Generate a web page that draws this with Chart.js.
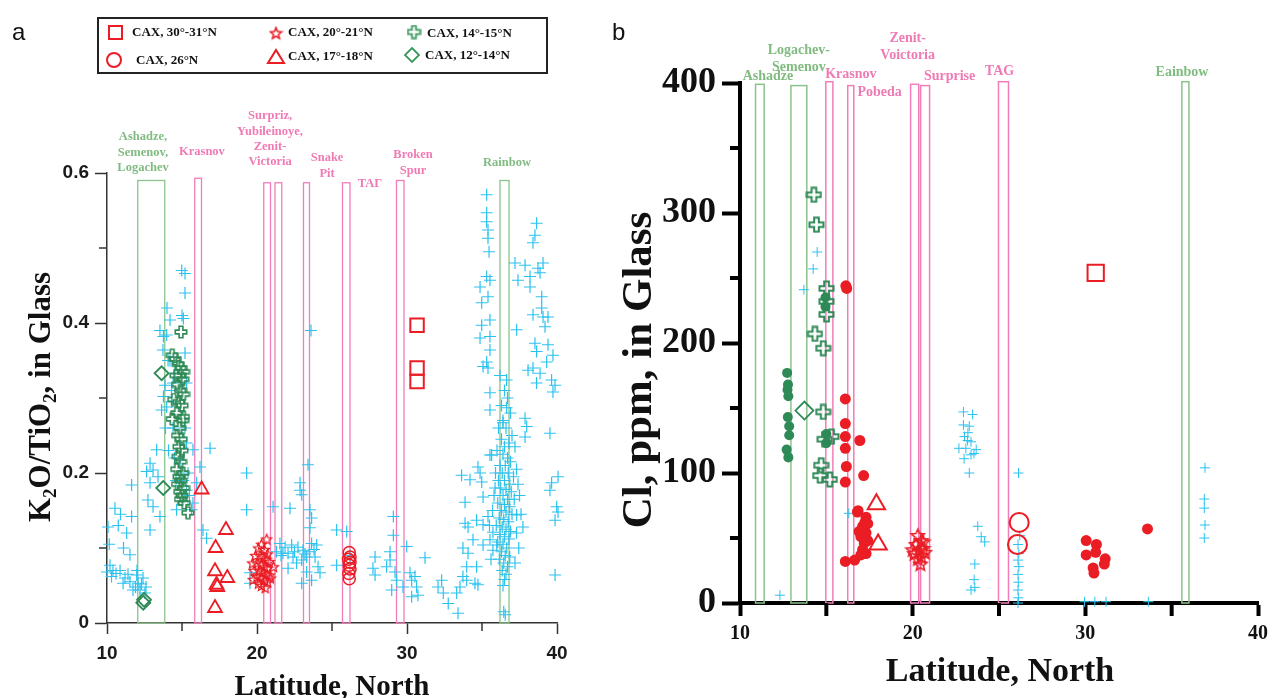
<!DOCTYPE html>
<html><head><meta charset="utf-8">
<script src="https://cdn.jsdelivr.net/npm/chart.js@4.4.1/dist/chart.umd.min.js"></script>
<style>
html,body{margin:0;padding:0;background:#fff;}
body{width:1274px;height:698px;overflow:hidden;position:relative;}
#ca{position:absolute;left:0;top:0;}
#cb{position:absolute;left:600px;top:0;}
</style></head>
<body>
<canvas id="ca" width="600" height="698"></canvas>
<canvas id="cb" width="674" height="698"></canvas>
<script>
// ================= DATA : panel a (latitude N, K2O/TiO2) =================
const cyanA = [
 [10.53,0.153],[11.64,0.184],[10.75,0.13],[11.64,0.142],[11.31,0.12],[10.07,0.128],[11.53,0.091],[10.2,0.077],[10.4,0.07],[10.87,0.07],
 [11.2,0.06],[11.53,0.055],[11.98,0.064],[12.07,0.053],[12.4,0.06],[11.73,0.044],[12.2,0.044],[12.53,0.04],[10.0,0.068],[11.07,0.053],
 [10.3,0.062],[10.6,0.066],[11.4,0.065],[11.9,0.048],[12.3,0.052],[10.15,0.105],[10.9,0.145],[11.1,0.1],[12.6,0.048],[12.0,0.07],
 [13.31,0.231],[12.87,0.213],[13.07,0.204],[12.64,0.202],[13.4,0.195],[12.87,0.187],[12.73,0.164],[13.07,0.155],[13.53,0.142],[12.87,0.124],
 [14.2,0.404],[15.09,0.406],[14.98,0.47],[15.2,0.466],[13.98,0.384],[13.73,0.364],[14.07,0.35],[13.87,0.317],[13.76,0.302],[13.64,0.284],
 [13.98,0.288],[14.31,0.295],[13.76,0.382],[13.53,0.39],[14.53,0.333],[15.73,0.231],[16.2,0.208],[15.98,0.187],[15.73,0.16],[16.87,0.233],
 [16.4,0.124],[16.64,0.113],[14.87,0.217],[15.09,0.19],[15.31,0.177],[14.64,0.151],[15.64,0.151],[14.2,0.35],[14.4,0.32],[14.3,0.31],
 [15.2,0.36],[15.3,0.32],[15.2,0.26],[15.3,0.24],[14.6,0.19],[15.4,0.2],[15.5,0.17],[14.4,0.26],[14.5,0.22],[13.9,0.26],
 [14.1,0.23],[14.0,0.42],[15.2,0.44],[15.0,0.41],
 [19.31,0.2],[19.31,0.151],[19.53,0.067],[19.53,0.053],[21.07,0.155],[22.2,0.153],[21.53,0.106],[21.87,0.101],[22.07,0.093],[21.73,0.093],
 [22.31,0.104],[22.07,0.073],[22.87,0.187],[22.87,0.177],[22.98,0.171],[23.4,0.211],[23.53,0.151],[23.64,0.14],[23.53,0.127],[22.73,0.101],
 [23.07,0.097],[23.31,0.088],[22.98,0.084],[23.64,0.106],[23.98,0.104],[23.87,0.088],[24.07,0.075],[24.2,0.067],[23.31,0.068],[23.64,0.057],
 [22.98,0.053],[22.64,0.08],[22.4,0.088],[23.6,0.39],[21.3,0.095],[21.6,0.09],[22.5,0.095],[23.2,0.092],[23.5,0.095],[23.8,0.098],
 [25.31,0.124],[25.98,0.122],[25.31,0.077],[26.2,0.09],[27.87,0.088],[27.73,0.073],[27.87,0.064],[28.64,0.075],[28.87,0.084],[29.09,0.142],
 [29.09,0.117],[28.87,0.095],[29.2,0.068],[28.98,0.044],[29.31,0.057],[29.98,0.102],[30.2,0.067],[30.31,0.057],[30.53,0.062],[30.64,0.048],
 [30.31,0.035],[31.2,0.087],[29.73,0.048],[30.73,0.037],[32.31,0.057],[32.07,0.048],[32.42,0.04],[32.75,0.026],[33.4,0.013],[33.31,0.04],
 [33.53,0.048],[33.98,0.057],[34.53,0.053],[34.73,0.051],[33.73,0.062],[33.98,0.075],[34.64,0.075],[34.07,0.093],[33.73,0.1],[34.4,0.111],
 [33.87,0.133],[34.64,0.137],[34.07,0.128],[35.07,0.131],[35.4,0.142],[33.87,0.161],[33.64,0.197],[34.2,0.191],[34.73,0.208],[34.87,0.2],
 [34.98,0.188],[35.07,0.168],[35.53,0.224],[35.87,0.18],[35.73,0.121],[35.53,0.111],[35.98,0.104],[35.07,0.104],[35.73,0.097],[37.73,0.128],
 [37.31,0.144],[39.87,0.064],[39.53,0.177],[40.07,0.195],[39.98,0.155],[39.87,0.137],[40.07,0.148],[39.64,0.187],
 [35.31,0.571],[35.31,0.547],[35.31,0.535],[35.4,0.524],[35.4,0.513],[35.47,0.495],[35.31,0.462],[34.87,0.448],[35.53,0.457],[34.98,0.427],
 [35.4,0.435],[35.53,0.404],[34.98,0.397],[34.87,0.38],[35.53,0.382],[35.31,0.348],[35.4,0.34],[35.07,0.342],[35.53,0.364],[35.53,0.307],
 [35.53,0.284],[35.64,0.224],[36.64,0.324],[36.64,0.287],[36.4,0.267],
 [38.64,0.533],[38.53,0.517],[38.4,0.507],[37.2,0.48],[37.87,0.477],[38.73,0.473],[39.07,0.48],[38.2,0.462],[38.87,0.467],[37.4,0.457],
 [38.2,0.448],[38.98,0.435],[38.98,0.42],[38.4,0.411],[39.07,0.408],[39.4,0.408],[39.2,0.395],[37.31,0.391],[38.53,0.373],[39.4,0.371],
 [38.64,0.362],[39.73,0.357],[39.31,0.348],[38.07,0.337],[38.4,0.34],[38.87,0.333],[39.64,0.324],[39.87,0.317],[38.64,0.32],[39.73,0.308],
 [37.87,0.273],[37.98,0.262],[39.53,0.253],[37.87,0.248],
 [36.2,0.33],[36.5,0.31],[36.3,0.29],[36.7,0.3],[36.9,0.28],[36.4,0.27],[36.1,0.26],[36.6,0.26],[37.0,0.25],[36.3,0.245],
 [36.8,0.24],[36.5,0.235],[37.2,0.235],[36.0,0.23],[36.4,0.225],[36.7,0.22],[36.9,0.215],[36.2,0.21],[36.55,0.21],[37.3,0.205],
 [35.9,0.2],[36.35,0.2],[36.75,0.2],[37.1,0.195],[36.1,0.19],[36.5,0.19],[36.85,0.185],[37.4,0.185],[36.25,0.18],[36.6,0.178],
 [36.95,0.175],[35.8,0.17],[36.4,0.17],[36.7,0.165],[37.15,0.165],[36.05,0.16],[36.5,0.158],[36.85,0.155],[36.3,0.15],[36.6,0.148],
 [37.0,0.145],[36.15,0.14],[36.45,0.138],[36.75,0.135],[35.95,0.13],[36.35,0.128],[36.6,0.125],[36.9,0.122],[36.2,0.118],[36.5,0.115],
 [36.8,0.112],[36.05,0.108],[36.4,0.105],[36.65,0.1],[36.3,0.095],[36.55,0.09],[36.85,0.088],[36.15,0.085],[36.45,0.08],[36.7,0.075],
 [36.35,0.07],[36.6,0.065],[36.5,0.058],[36.4,0.05],[36.55,0.011],[36.45,0.015],[37.5,0.17],[37.6,0.145],[35.7,0.15],[35.5,0.13],
 [37.3,0.12],[37.45,0.1],[35.6,0.085],[37.2,0.08]
];
const greenPlusA = [
 [14.93,0.388],[14.35,0.357],[14.55,0.352],[14.75,0.345],[14.95,0.34],[15.1,0.335],[14.6,0.33],[14.85,0.33],[15.05,0.325],[14.7,0.318],
 [14.9,0.31],[15.1,0.305],[14.45,0.298],[14.8,0.295],[15.0,0.29],[14.65,0.28],[15.09,0.275],[14.35,0.272],[15.05,0.27],[14.85,0.26],
 [14.7,0.25],[14.95,0.245],[14.8,0.235],[15.0,0.23],[14.75,0.222],[14.9,0.215],[14.65,0.205],[15.05,0.2],[14.8,0.195],[14.95,0.19],
 [14.7,0.185],[15.1,0.18],[14.85,0.175],[15.0,0.17],[14.9,0.165],[15.15,0.16],[15.4,0.147]
];
const diamondA  = [[13.64,0.333],[13.75,0.18],[12.47,0.031],[12.42,0.027]];
const triangleA = [[16.31,0.178],[17.93,0.124],[17.24,0.1],[17.2,0.069],[18.02,0.06],[17.3,0.051],[17.35,0.048],[17.2,0.02]];
const starA = [
 [20.1,0.1],[20.3,0.105],[20.5,0.098],[20.7,0.092],[20.2,0.09],[20.4,0.088],[20.6,0.085],[20.8,0.082],[20.0,0.08],[20.3,0.078],
 [20.5,0.075],[20.7,0.073],[20.15,0.07],[20.4,0.068],[20.6,0.065],[20.85,0.064],[20.0,0.062],[20.25,0.06],[20.5,0.057],[20.7,0.055],
 [20.3,0.05],[20.55,0.047],[20.1,0.053],[20.9,0.06],[20.65,0.112],[19.8,0.07],[19.7,0.08],[19.9,0.09],[19.75,0.058],[21.1,0.075]
];
const circleA = [[26.15,0.094],[26.2,0.088],[26.1,0.085],[26.2,0.081],[26.15,0.077],[26.2,0.072],[26.12,0.066],[26.15,0.059]];
const squareA = [[30.67,0.397],[30.67,0.34],[30.67,0.322]];

// vent fields, panel a
const ventA_lo  = [12.05,15.85,20.45,21.2,23.1,25.7,29.3,36.2];
const ventA_hi  = [13.85,16.3,20.9,21.65,23.5,26.2,29.8,36.8];
const ventA_top = [0.59,0.593,0.587,0.587,0.587,0.587,0.59,0.59];
const ventA_kind= ['g','p','p','p','p','p','p','g'];
const labelA_text = [['Ashadze,','Semenov,','Logachev'],['Krasnov'],['Surpriz,','Yubileinoye,','Zenit-','Victoria'],['Snake','Pit'],['TAΓ'],['Broken','Spur'],['Rainbow']];
const labelA_lat  = [12.4,16.33,20.87,24.67,27.53,30.4,36.67];
const labelA_kind = ['g','p','p','p','p','p','g'];
const xTicksA = [10,20,30,40], xMinorA = [15,25,35];
const yTicksA = [0,0.2,0.4,0.6], yMinorA = [0.1,0.3,0.5];
const legendText = ['CAX, 30°-31°N','CAX, 26°N','CAX, 20°-21°N','CAX, 17°-18°N','CAX, 14°-15°N','CAX, 12°-14°N'];

// ================= DATA : panel b (latitude N, Cl ppm) =================
const cyanB = [
 [14.47,270],[14.24,257],[13.7,241],[12.31,6],[16.3,69],
 [22.94,147],[23.47,145],[22.94,137],[23.28,136],[23.18,125],[23.38,124],[22.68,119],[23.08,119],[23.68,118],[23.38,114],
 [22.98,111],[23.55,115],[23.28,100],[23.0,128],[23.2,131],
 [23.77,59],[23.97,51],[24.17,47],[23.6,30],[23.56,18],[23.38,10],[23.6,12],
 [26.13,100],[26.1,45],[26.15,38],[26.1,33],[26.15,28],[26.1,22],[26.12,16],[26.1,10],[26.12,4],[26.1,0],[26.2,52],
 [29.95,1],[30.55,1],[31.2,1],[33.65,1],
 [36.93,104],[36.89,80],[36.89,73],[36.93,60],[36.89,50]
];
const greenPlusB = [[14.28,314],[14.43,291],[15.01,242],[15.01,232],[15.01,222],[14.34,207],[14.82,196],[14.82,147],[15.3,128],[14.9,126],[14.7,106],[15.2,95],[14.64,98]];
const greenDotB  = [[12.73,177],[12.75,164],[12.8,159],[12.77,143],[12.85,136],[12.85,129],[12.7,118],[12.8,112],[12.78,168],[14.95,235],[14.95,228],[15.0,130],[15.0,123]];
const diamondB   = [[13.73,148]];
const redDotB = [
 [16.13,244],[16.18,242],[16.1,157],[16.1,138],[16.1,128],[16.1,119],[16.94,125],[16.16,105],[17.16,98],[16.1,93],
 [16.1,32],[16.64,33],[16.84,71],[17.3,66],[17.1,59],[17.3,54],[17.0,51],[17.2,46],[17.4,48],[17.1,41],
 [17.3,38],[17.0,37],[16.8,70],[17.4,61],[16.9,55],[17.23,62],
 [30.05,48],[30.64,45],[30.05,37],[30.6,39],[31.15,34],[31.1,30],[30.45,27],[30.5,23],[33.6,57]
];
const circleB   = [[26.17,62],[26.07,45]];
const triangleB = [[17.9,76],[18.0,45]];
const starB     = [[20.3,52],[20.5,48],[20.2,45],[20.6,42],[20.4,40],[20.1,38],[20.5,36],[20.3,34],[20.7,39],[20.0,41],[20.6,47],[20.45,30]];
const squareB   = [[30.6,254]];

const ventB_lo  = [10.9,12.95,14.97,16.24,19.88,20.46,24.97,35.59];
const ventB_hi  = [11.4,13.87,15.38,16.59,20.35,20.98,25.55,36.0];
const ventB_top = [399,398,401,398,399,398,401,401];
const ventB_kind= ['g','g','p','p','p','p','p','g'];
const labelB_text = [['Ashadze'],['Logachev-','Semenov'],['Krasnov'],['Pobeda'],['Zenit-','Voictoria'],['Surprise'],['TAG'],['Eainbow']];
const labelB_lat  = [11.62,13.41,16.42,18.09,19.71,22.14,25.03,35.6];
const labelB_kind = ['g','g','p','p','p','p','p','g'];
const xTicksB = [10,20,30,40], xMinorB = [15,25,35];
const yTicksB = [0,100,200,300,400], yMinorB = [50,150,250,350];

// ================= STYLE =================
const CYAN='#2CC2F0', GREEN='#2E8A57', RED='#EA1C24', PINK='#F27DB8', LGREEN='#8CC28C';
const PINKTXT='#F07AB4', GREENTXT='#80BC80';
const SERIF='"Liberation Serif","Times New Roman",serif';
const SANS='"Liberation Sans",Arial,sans-serif';

function plusImg(size,color,lw){
  const c=document.createElement('canvas'); c.width=c.height=size;
  const g=c.getContext('2d'); const m=lw/2+0.5, s=size-2*m, a=s/3;
  const o=m;
  g.beginPath();
  g.moveTo(o+a,o); g.lineTo(o+2*a,o); g.lineTo(o+2*a,o+a); g.lineTo(o+s,o+a); g.lineTo(o+s,o+2*a);
  g.lineTo(o+2*a,o+2*a); g.lineTo(o+2*a,o+s); g.lineTo(o+a,o+s); g.lineTo(o+a,o+2*a); g.lineTo(o,o+2*a);
  g.lineTo(o,o+a); g.lineTo(o+a,o+a); g.closePath();
  g.strokeStyle=color; g.lineWidth=lw; g.stroke();
  return c;
}
function starImg(size,color,lw){
  const c=document.createElement('canvas'); c.width=c.height=size;
  const g=c.getContext('2d'); const cx=size/2, cy=size/2+0.6, R=size/2-lw, r=R*0.45;
  g.beginPath();
  for(let i=0;i<10;i++){const ang=-Math.PI/2+i*Math.PI/5; const rr=(i%2)?r:R; g.lineTo(cx+rr*Math.cos(ang),cy+rr*Math.sin(ang));}
  g.closePath(); g.strokeStyle=color; g.lineWidth=lw; g.stroke(); return c;
}
const plusA=plusImg(14,GREEN,1.6), plusB=plusImg(17,GREEN,2), plusL=plusImg(15,'#3A9A5E',1.8);
const starAi=starImg(13,RED,1.2), starBi=starImg(17,RED,1.5), starL=starImg(15,RED,1.6);

const pts = arr => arr.map(p=>({x:p[0],y:p[1]}));
function ds(data,style){ return Object.assign({data:pts(data),showLine:false,clip:false,pointHoverRadius:0},style); }

function minorTicks(chart,xm,ym,lenX,lenY,w,color){
  const ctx=chart.ctx, xs=chart.scales.x, ys=chart.scales.y;
  ctx.save(); ctx.strokeStyle=color; ctx.lineWidth=w; ctx.lineCap='butt';
  xm.forEach(v=>{const p=xs.getPixelForValue(v); ctx.beginPath(); ctx.moveTo(p,ys.bottom); ctx.lineTo(p,ys.bottom+lenX); ctx.stroke();});
  ym.forEach(v=>{const p=ys.getPixelForValue(v); ctx.beginPath(); ctx.moveTo(xs.left,p); ctx.lineTo(xs.left-lenY,p); ctx.stroke();});
  ctx.restore();
}
function vents(chart,lo,hi,top,kind,lw){
  const ctx=chart.ctx, xs=chart.scales.x, ys=chart.scales.y;
  ctx.save(); ctx.lineWidth=lw;
  lo.forEach((l,i)=>{const x0=xs.getPixelForValue(l), x1=xs.getPixelForValue(hi[i]);
    const y0=ys.getPixelForValue(top[i]), y1=ys.getPixelForValue(0);
    ctx.strokeStyle = kind[i]==='g'?LGREEN:PINK; ctx.strokeRect(x0,y0,x1-x0,y1-y0);});
  ctx.restore();
}
function ventLabels(chart,texts,lats,kinds,ys0,lh,font){
  const ctx=chart.ctx, xs=chart.scales.x;
  ctx.save(); ctx.font=font; ctx.textAlign='center'; ctx.textBaseline='middle';
  texts.forEach((lines,i)=>{ctx.fillStyle=kinds[i]==='g'?GREENTXT:PINKTXT; const x=xs.getPixelForValue(lats[i]);
    lines.forEach((t,j)=>ctx.fillText(t,x,ys0[i]+j*lh));});
  ctx.restore();
}
function rotTitle(ctx,cx,cy,parts,size){
  ctx.save(); ctx.translate(cx,cy); ctx.rotate(-Math.PI/2); ctx.fillStyle='#111'; ctx.textBaseline='middle';
  let total=0; parts.forEach(p=>{ctx.font='bold '+(p[1]?Math.round(size*0.62):size)+'px '+SERIF; total+=ctx.measureText(p[0]).width;});
  let x=-total/2;
  parts.forEach(p=>{ctx.font='bold '+(p[1]?Math.round(size*0.62):size)+'px '+SERIF; ctx.fillText(p[0],x,p[1]?size*0.3:0); x+=ctx.measureText(p[0]).width;});
  ctx.restore();
}

// ================= PANEL A =================
const plugA={id:'plugA',
  beforeDatasetsDraw(chart){ vents(chart,ventA_lo,ventA_hi,ventA_top,ventA_kind,1.3); },
  afterDraw(chart){
    const ctx=chart.ctx;
    minorTicks(chart,xMinorA,yMinorA,8,8,1.5,'#333');
    ventLabels(chart,labelA_text,labelA_lat,labelA_kind,[137,152,116,158,184,155,163],15.3,'bold 12.5px '+SERIF);
    // legend
    ctx.save(); ctx.strokeStyle='#222'; ctx.lineWidth=2; ctx.strokeRect(98,18,449,55);
    ctx.font='bold 13px '+SERIF; ctx.fillStyle='#111'; ctx.textBaseline='middle'; ctx.textAlign='left';
    ctx.strokeStyle=RED; ctx.lineWidth=2; ctx.strokeRect(109,26,13,13);
    ctx.beginPath(); ctx.arc(114,60,7,0,Math.PI*2); ctx.stroke();
    ctx.drawImage(starL,276-7.5,33-7.5);
    ctx.beginPath(); ctx.moveTo(276,50); ctx.lineTo(284,63); ctx.lineTo(268,63); ctx.closePath(); ctx.stroke();
    ctx.drawImage(plusL,414-7.5,32-7.5);
    ctx.strokeStyle='#3A9A5E'; ctx.lineWidth=1.8; ctx.beginPath(); ctx.moveTo(412,48); ctx.lineTo(419,55); ctx.lineTo(412,62); ctx.lineTo(405,55); ctx.closePath(); ctx.stroke();
    ctx.fillText(legendText[0],132,33); ctx.fillText(legendText[1],136,61);
    ctx.fillText(legendText[2],288,33); ctx.fillText(legendText[3],288,57);
    ctx.fillText(legendText[4],427,34); ctx.fillText(legendText[5],425,56);
    ctx.restore();
    // titles
    rotTitle(ctx,42,397,[['K',0],['2',1],['O/TiO',0],['2',1],[', in Glass',0]],31);
    ctx.save(); ctx.fillStyle='#111'; ctx.font='bold 29px '+SERIF; ctx.textAlign='center'; ctx.textBaseline='alphabetic';
    ctx.fillText('Latitude, North',332,695);
    ctx.font='24px '+SANS; ctx.textAlign='left'; ctx.fillText('a',12,40);
    ctx.restore();
  }
};
new Chart(document.getElementById('ca'),{
  type:'scatter',
  data:{datasets:[
    ds(squareA,{pointStyle:'rect',pointRadius:9.5,borderColor:RED,borderWidth:2,backgroundColor:'rgba(0,0,0,0)',order:1}),
    ds(circleA,{pointStyle:'circle',pointRadius:6,borderColor:RED,borderWidth:1.5,backgroundColor:'rgba(0,0,0,0)',order:2}),
    ds(triangleA,{pointStyle:'triangle',pointRadius:8,borderColor:RED,borderWidth:1.8,backgroundColor:'rgba(0,0,0,0)',order:3}),
    ds(starA,{pointStyle:starAi,order:4}),
    ds(diamondA,{pointStyle:'rectRot',pointRadius:7,borderColor:GREEN,borderWidth:1.8,backgroundColor:'rgba(0,0,0,0)',order:5}),
    ds(greenPlusA,{pointStyle:plusA,order:6}),
    ds(cyanA,{pointStyle:'cross',pointRadius:6,borderColor:CYAN,borderWidth:1.2,order:10})
  ]},
  options:{
    responsive:false,animation:false,devicePixelRatio:1,events:[],
    layout:{padding:{top:173,right:43,left:0,bottom:0}},
    plugins:{legend:{display:false},tooltip:{enabled:false}},
    scales:{
      x:{type:'linear',min:10,max:40,afterFit:s=>{s.height=75;},
        afterBuildTicks:s=>{s.ticks=xTicksA.map(v=>({value:v}));},
        ticks:{color:'#1a1a1a',font:{family:SANS,size:19,weight:'bold'},padding:8,maxRotation:0,autoSkip:false},
        grid:{drawOnChartArea:false,drawTicks:true,tickLength:11,tickColor:'#333',tickWidth:1.5},
        border:{display:true,color:'#333',width:1.5}},
      y:{min:0,max:0.6,afterFit:s=>{s.width=107;},
        afterBuildTicks:s=>{s.ticks=yTicksA.map(v=>({value:v}));},
        ticks:{color:'#1a1a1a',font:{family:SANS,size:19,weight:'bold'},padding:6,callback:v=>String(Math.round(v*10)/10)},
        grid:{drawOnChartArea:false,drawTicks:true,tickLength:12,tickColor:'#333',tickWidth:1.5},
        border:{display:true,color:'#333',width:1.5}}
    }
  },
  plugins:[plugA]
});

// ================= PANEL B =================
const plugB={id:'plugB',
  beforeDatasetsDraw(chart){ vents(chart,ventB_lo,ventB_hi,ventB_top,ventB_kind,1.5); },
  afterDraw(chart){
    const ctx=chart.ctx;
    minorTicks(chart,xMinorB,yMinorB,13,10,4,'#000');
    ventLabels(chart,labelB_text,labelB_lat,labelB_kind,[76,50,74,92,38,76,71,72],17,'bold 14px '+SERIF);
    rotTitle(ctx,40,370,[['Cl, ppm, in Glass',0]],43);
    ctx.save(); ctx.fillStyle='#111'; ctx.font='bold 34px '+SERIF; ctx.textAlign='center'; ctx.textBaseline='alphabetic';
    ctx.fillText('Latitude, North',400,681);
    ctx.font='24px '+SANS; ctx.textAlign='left'; ctx.fillText('b',12,40);
    ctx.restore();
  }
};
new Chart(document.getElementById('cb'),{
  type:'scatter',
  data:{datasets:[
    ds(squareB,{pointStyle:'rect',pointRadius:11.5,borderColor:RED,borderWidth:2,backgroundColor:'rgba(0,0,0,0)',order:1}),
    ds(circleB,{pointStyle:'circle',pointRadius:9.5,borderColor:RED,borderWidth:2,backgroundColor:'rgba(0,0,0,0)',order:2}),
    ds(triangleB,{pointStyle:'triangle',pointRadius:10,borderColor:RED,borderWidth:2,backgroundColor:'rgba(0,0,0,0)',order:3}),
    ds(starB,{pointStyle:starBi,order:4}),
    ds(diamondB,{pointStyle:'rectRot',pointRadius:9,borderColor:GREEN,borderWidth:1.8,backgroundColor:'rgba(0,0,0,0)',order:5}),
    ds(greenPlusB,{pointStyle:plusB,order:6}),
    ds(redDotB,{pointStyle:'circle',pointRadius:5.5,borderColor:RED,borderWidth:0,backgroundColor:RED,order:7}),
    ds(greenDotB,{pointStyle:'circle',pointRadius:5,borderColor:GREEN,borderWidth:0,backgroundColor:GREEN,order:8}),
    ds(cyanB,{pointStyle:'cross',pointRadius:5,borderColor:CYAN,borderWidth:1,order:10})
  ]},
  options:{
    responsive:false,animation:false,devicePixelRatio:1,events:[],
    layout:{padding:{top:83,right:15,left:0,bottom:0}},
    plugins:{legend:{display:false},tooltip:{enabled:false}},
    scales:{
      x:{type:'linear',min:10,max:40,afterFit:s=>{s.height=95;},
        afterBuildTicks:s=>{s.ticks=xTicksB.map(v=>({value:v}));},
        ticks:{color:'#111',font:{family:SERIF,size:20,weight:'bold'},padding:6,maxRotation:0,autoSkip:false},
        grid:{drawOnChartArea:false,drawTicks:true,tickLength:13,tickColor:'#000',tickWidth:4},
        border:{display:true,color:'#000',width:4}},
      y:{min:0,max:400,afterFit:s=>{s.width=140;},
        afterBuildTicks:s=>{s.ticks=yTicksB.map(v=>({value:v}));},
        ticks:{color:'#111',font:{family:SERIF,size:36,weight:'bold'},padding:6},
        grid:{drawOnChartArea:false,drawTicks:true,tickLength:18,tickColor:'#000',tickWidth:4},
        border:{display:true,color:'#000',width:4}}
    }
  },
  plugins:[plugB]
});
</script>
</body></html>
